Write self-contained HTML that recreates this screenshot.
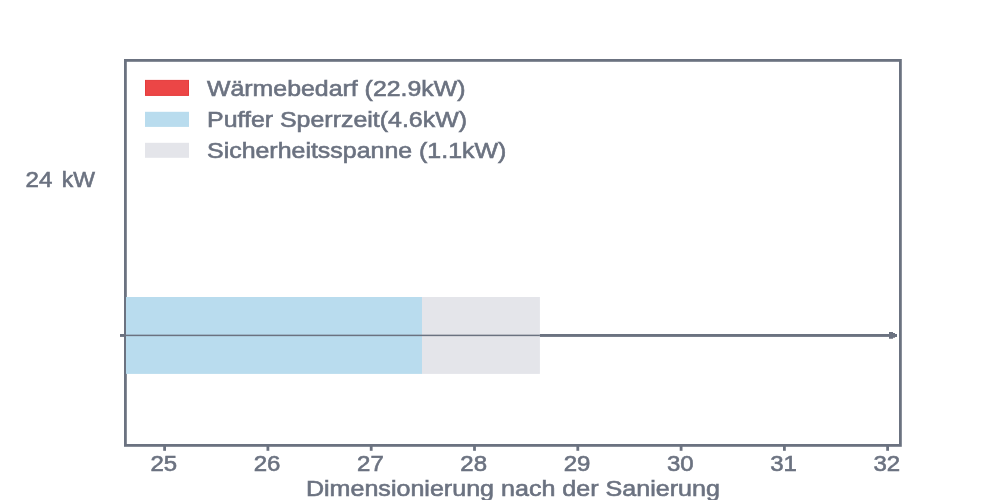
<!DOCTYPE html>
<html><head><meta charset="utf-8">
<style>
html,body{margin:0;padding:0;background:#fff;}
body{width:1000px;height:500px;overflow:hidden;position:relative;}
svg{position:absolute;left:0;top:0;will-change:transform;}
text{font-family:"Liberation Sans",sans-serif;fill:#6b7280;stroke:#6b7280;stroke-width:0.6px;}
</style></head><body>
<svg width="1000" height="500" viewBox="0 0 1000 500">
  <rect x="0" y="0" width="1000" height="500" fill="#ffffff"/>
  <!-- frame -->
  <rect x="125.4" y="60.4" width="775" height="385" fill="none" stroke="#6b7280" stroke-width="2.8"/>
  <!-- thick axis line -->
  <rect x="120" y="334" width="770" height="2.9" fill="#6b7280"/>
  <path d="M889,332 H893 V333 H895 V334 H897 V336.9 H895 V337.7 H893 V338.8 H889 Z" fill="#6b7280"/>
  <!-- bars -->
  <rect x="126" y="297" width="296" height="76.9" fill="#b9dcee"/>
  <rect x="422" y="297" width="117.9" height="76.9" fill="#e4e5ea"/>
  <!-- thin line over bars -->
  <rect x="126" y="334.65" width="413.9" height="1.5" fill="#6b7280"/>
  <!-- ticks -->
  <g stroke="#6b7280" stroke-width="2.8">
    <line x1="164.6" y1="446" x2="164.6" y2="450.8"/>
    <line x1="267.9" y1="446" x2="267.9" y2="450.8"/>
    <line x1="371.2" y1="446" x2="371.2" y2="450.8"/>
    <line x1="474.5" y1="446" x2="474.5" y2="450.8"/>
    <line x1="577.8" y1="446" x2="577.8" y2="450.8"/>
    <line x1="681.1" y1="446" x2="681.1" y2="450.8"/>
    <line x1="784.4" y1="446" x2="784.4" y2="450.8"/>
    <line x1="887.6" y1="446" x2="887.6" y2="450.8"/>
  </g>
  <g font-size="22" text-anchor="middle" lengthAdjust="spacingAndGlyphs">
    <text x="163.8" y="471" textLength="26.7" lengthAdjust="spacingAndGlyphs">25</text>
    <text x="267.1" y="471" textLength="26.7" lengthAdjust="spacingAndGlyphs">26</text>
    <text x="370.4" y="471" textLength="26.7" lengthAdjust="spacingAndGlyphs">27</text>
    <text x="473.7" y="471" textLength="26.7" lengthAdjust="spacingAndGlyphs">28</text>
    <text x="577.0" y="471" textLength="26.7" lengthAdjust="spacingAndGlyphs">29</text>
    <text x="680.3" y="471" textLength="26.7" lengthAdjust="spacingAndGlyphs">30</text>
    <text x="783.6" y="471" textLength="26.7" lengthAdjust="spacingAndGlyphs">31</text>
    <text x="886.8" y="471" textLength="26.7" lengthAdjust="spacingAndGlyphs">32</text>
  </g>
  <text x="512.9" y="496" font-size="22" text-anchor="middle" textLength="414" lengthAdjust="spacingAndGlyphs">Dimensionierung nach der Sanierung</text>
  <text x="25.5" y="187" font-size="22" textLength="26.8" lengthAdjust="spacingAndGlyphs">24</text>
  <text x="61.7" y="187" font-size="22" textLength="33.2" lengthAdjust="spacingAndGlyphs">kW</text>
  <!-- legend -->
  <rect x="145.5" y="80.4" width="43" height="15" fill="#ec4646" stroke="#e53b3b" stroke-width="1"/>
  <rect x="145" y="111.8" width="44" height="15.1" fill="#b9dcee"/>
  <rect x="145" y="142.8" width="44" height="15" fill="#e4e5ea"/>
  <g font-size="22" lengthAdjust="spacingAndGlyphs">
    <text x="207" y="96" textLength="258.5" lengthAdjust="spacingAndGlyphs">Wärmebedarf (22.9kW)</text>
    <text x="207" y="127" textLength="260" lengthAdjust="spacingAndGlyphs">Puffer Sperrzeit(4.6kW)</text>
    <text x="207" y="158" textLength="299.3" lengthAdjust="spacingAndGlyphs">Sicherheitsspanne (1.1kW)</text>
  </g>
</svg>
</body></html>
